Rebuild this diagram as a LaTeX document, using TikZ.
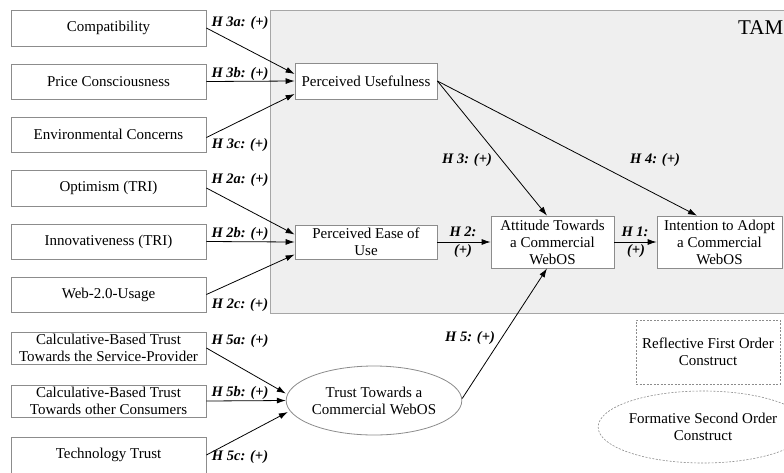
\documentclass[tikz,border=0pt]{standalone}
\usepackage{fontspec}
\setmainfont{Liberation Serif}
\usetikzlibrary{arrows.meta,shapes.geometric}
\definecolor{boxgray}{HTML}{8C8C8C}
\definecolor{tamfill}{HTML}{EFEFEF}
\definecolor{tamline}{HTML}{A6A6A6}
\begin{document}
\begin{tikzpicture}[x=1pt,y=-1pt,
  box/.style={draw=boxgray, fill=white, line width=0.8pt, inner sep=0pt, align=center, font=\fontsize{15}{17}\selectfont},
  lbox/.style={box, minimum width=195pt},
  dbox/.style={box, dash pattern=on 2pt off 1.5pt, line width=0.6pt},
  arr/.style={-{Latex[length=9pt,width=6pt]}, line width=0.8pt, black},
  hyp/.style={font=\fontsize{14.5}{16}\selectfont\bfseries\itshape, inner sep=0pt, align=center}
]
\useasboundingbox (0,0) rectangle (784,472);
\clip (0,0) rectangle (784,472);
\fill[white] (0,0) rectangle (784,472);
% TAM region
\draw[fill=tamfill, draw=tamline, line width=0.8pt] (270,10) rectangle (790,313);
\node[anchor=west, font=\fontsize{21}{24}\selectfont, inner sep=0pt] (tam) at (738,28) {TAM};
% left column
\node[lbox, minimum height=36pt] (comp) at (108.5,28) {Compatibility};
\node[lbox, minimum height=35pt] (price) at (108.5,81.5) {Price Consciousness};
\node[lbox, minimum height=35pt] (env) at (108.5,134.5) {Environmental Concerns};
\node[lbox, minimum height=36pt] (opt) at (108.5,188) {Optimism (TRI)};
\node[lbox, minimum height=35pt] (innov) at (108.5,241.5) {Innovativeness (TRI)};
\node[lbox, minimum height=35pt] (web) at (108.5,294.5) {Web-2.0-Usage};
\node[lbox, minimum height=32pt] (cbsp) at (108.5,348) {Calculative-Based Trust\\Towards the Service-Provider};
\node[lbox, minimum height=32pt] (cbco) at (108.5,401) {Calculative-Based Trust\\Towards other Consumers};
\node[lbox, minimum height=36pt] (tech) at (108.5,455) {Technology Trust};
% TAM constructs
\node[box, minimum width=142pt, minimum height=36pt] (pu) at (366,81) {Perceived Usefulness};
\node[box, minimum width=142pt, minimum height=34pt] (peu) at (366,242) {Perceived Ease of\\Use};
\node[box, minimum width=123pt, minimum height=52pt] (att) at (552.5,242) {Attitude Towards\\a Commercial\\WebOS};
\node[box, minimum width=125pt, minimum height=52pt] (int) at (719.5,242) {Intention to Adopt\\a Commercial\\WebOS};
\node[box, ellipse, inner sep=0pt, minimum width=162pt, minimum height=69pt] (trust) at (374,400.5) {Trust Towards a\\Commercial WebOS};
% legend
\node[dbox, minimum width=144pt, minimum height=64pt] (refl) at (708,352) {Reflective First Order\\Construct};
\node[dbox, ellipse, minimum width=164pt, minimum height=72pt] (form) at (703,427) {Formative Second Order\\Construct};
% arrows
\draw[arr] (comp.east) -- ([yshift=7pt]pu.west);
\draw[arr] (price.east) -- (pu.west);
\draw[arr] ([yshift=-3pt]env.east) -- ([yshift=-13pt]pu.west);
\draw[arr] (opt.east) -- ([yshift=7.5pt]peu.west);
\draw[arr] (innov.east) -- (peu.west);
\draw[arr] (web.east) -- ([yshift=-12.5pt]peu.west);
\draw[arr] (cbsp.east) -- ([yshift=7pt]trust.west);
\draw[arr] (cbco.east) -- (trust.west);
\draw[arr] (tech.east) -- ([yshift=-11.5pt,xshift=2pt]trust.west);
\draw[arr] (pu.east) -- ([xshift=-5.5pt]att.north);
\draw[arr] (pu.east) -- ([xshift=-22.5pt]int.north);
\draw[arr] (peu.east) -- (att.west);
\draw[arr] (att.east) -- (int.west);
\draw[arr] ([yshift=2pt]trust.east) -- ([xshift=-5.5pt]att.south);
% hypotheses
\node[hyp] (h3a) at (240,23) {H 3a: (+)};
\node[hyp] (h3b) at (240,74) {H 3b: (+)};
\node[hyp] (h3c) at (240,145) {H 3c: (+)};
\node[hyp] (h2a) at (240,180) {H 2a: (+)};
\node[hyp] (h2b) at (240,234) {H 2b: (+)};
\node[hyp] (h2c) at (240,305) {H 2c: (+)};
\node[hyp] (h5a) at (240,341) {H 5a: (+)};
\node[hyp] (h5b) at (240,393) {H 5b: (+)};
\node[hyp] (h5c) at (240,457) {H 5c: (+)};
\node[hyp] (h3) at (467,160) {H 3: (+)};
\node[hyp] (h4) at (655,160) {H 4: (+)};
\node[hyp] (h2) at (463,232) {H 2:};
\node[hyp] (h2p) at (463,251) {(+)};
\node[hyp] (h1) at (635,232) {H 1:};
\node[hyp] (h1p) at (636,251) {(+)};
\node[hyp] (h5) at (470,338) {H 5: (+)};
\end{tikzpicture}
\end{document}
